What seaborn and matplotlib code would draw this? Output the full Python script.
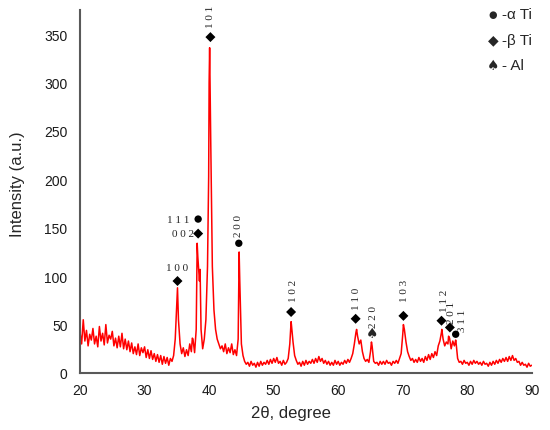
import numpy as np
import pandas as pd
import seaborn as sns
import matplotlib
matplotlib.use("Agg")
import matplotlib.pyplot as plt

two_theta = np.arange(20.0, 90.01, 0.25)
intensity = [
    42, 30, 55, 33,  44, 28, 40, 34,  46, 30, 38, 27,  48, 33, 41, 29,
    50, 31, 39, 35,  43, 28, 36, 26,  38, 27, 41, 25,  35, 24, 33, 22,
    31, 20, 27, 19,  30, 18, 26, 21,  27, 16, 24, 15,  23, 14, 20, 12,
    19, 11, 18, 9,   17, 10, 16, 8,   15, 12, 18, 35,  72, 55, 30, 20,
    26, 17, 24, 18,  30, 22, 35, 21,  45, 120, 95, 45, 25, 35, 55, 110,
    300, 240, 110, 65, 45, 35, 30, 25, 28, 22, 30, 20, 26, 21, 30, 19,
    24, 18, 35, 95,  30, 18, 12, 9,   11, 7, 12, 8,   10, 6, 11, 7,
    12, 8, 11, 9,    13, 9, 14, 10,   15, 11, 16, 10,  12, 8, 13, 9,
    11, 15, 30, 50,  32, 18, 13, 9,   11, 7, 12, 8,   13, 9, 12, 10,
    14, 10, 15, 11,  17, 12, 15, 10,  13, 9, 12, 8,   11, 8, 13, 9,
    12, 8, 11, 9,    13, 10, 14, 11,  15, 20, 30, 42,  38, 30, 34, 22,
    15, 12, 14, 11,  22, 28, 12, 10,  11, 8, 12, 9,   12, 9, 13, 10,
    11, 8, 12, 10,   13, 10, 15, 20,  40, 45, 32, 22,  17, 13, 15, 11,
    14, 11, 16, 12,  15, 11, 17, 13,  19, 14, 20, 16,  22, 18, 28, 33,
    42, 35, 28, 32,  30, 36, 25, 33,  28, 32, 15, 11,  12, 9, 13, 10,
    11, 8, 12, 9,    13, 10, 12, 9,   11, 8, 12, 9,   10, 7, 11, 8,
    12, 9, 13, 10,   14, 11, 15, 12,  16, 12, 17, 13,  18, 13, 15, 11,
    12, 8, 11, 8,    9, 6, 10, 7,     8,
]

# peak tops between the grid points
peak_x = [35.1, 37.4, 38.15, 38.6, 39.93, 40.08, 44.65, 52.7, 62.85, 65.15,
          70.1, 76.05, 77.1, 78.2]
peak_y = [88, 36, 134, 107, 203, 336, 125, 53, 45, 32, 50, 45, 38, 34]

# phase markers
alpha_x = [38.3, 44.6, 78.2]
alpha_y = [159, 134, 40]
beta_x = [35.1, 38.3, 40.2, 52.7, 62.7, 70.1, 76.0, 77.3]
beta_y = [95, 144, 347, 63, 56, 59, 54, 47]
al_x = [65.2]
al_y = [41]

# hkl labels written upright (right aligned) and rotated
flat_labels = ["1 1 1", "0 0 2"]
flat_x = [37.0, 37.6]
flat_y = [159, 144]
rot_labels = ["1 0 1", "2 0 0", "1 0 2", "1 1 0", "2 2 0", "1 0 3", "1 1 2", "2 0 1", "3 1 1"]
rot_x = [40.2, 44.6, 53.1, 62.85, 65.4, 70.3, 76.4, 77.6, 79.3]
rot_y = [357, 141, 74, 66, 48, 74, 64, 52, 43]

df = pd.DataFrame({"x": np.concatenate([two_theta, peak_x]),
                   "y": np.concatenate([intensity, peak_y])}).sort_values("x")

sns.set_style("white")
plt.rcParams["font.family"] = ["Liberation Sans", "DejaVu Sans"]

fig = plt.figure(figsize=(5.5, 4.31), dpi=100)
ax = fig.add_axes([0.1455, 0.1323, 0.8215, 0.8422])

sns.lineplot(data=df, x="x", y="y", ax=ax, color="#ff0000", lw=1.1,
             sort=False, estimator=None)
sns.scatterplot(x=alpha_x, y=alpha_y, ax=ax, marker="o", s=28, color="black",
                edgecolor="none", clip_on=False, zorder=5)
sns.scatterplot(x=beta_x, y=beta_y, ax=ax, marker="D", s=26, color="black",
                edgecolor="none", clip_on=False, zorder=5)
for x, y in zip(al_x, al_y):
    ax.text(x, y, "\u2660", ha="center", va="center", fontsize=10,
            family="DejaVu Sans", zorder=5)

serif = "Liberation Serif"
ax.text(35.1, 104, "1 0 0", ha="center", va="bottom", fontsize=8, family=serif)
for lab, x, y in zip(flat_labels, flat_x, flat_y):
    ax.text(x, y, lab, ha="right", va="center", fontsize=8, family=serif)
for lab, x, y in zip(rot_labels, rot_x, rot_y):
    ax.text(x, y, lab, ha="center", va="bottom", rotation=90, fontsize=8,
            family=serif, clip_on=False)

ax.set_xlim(20, 90)
ax.set_ylim(0, 375)
ax.set_xticks(range(20, 91, 10))
ax.set_yticks(range(0, 351, 50))
ax.tick_params(length=0, labelsize=10, colors="#1a1a1a")
ax.tick_params(axis="x", pad=7)
ax.tick_params(axis="y", pad=9)
for side in ["top", "right"]:
    ax.spines[side].set_visible(False)
for side in ["left", "bottom"]:
    ax.spines[side].set_color("#595959")
    ax.spines[side].set_linewidth(1.5)

ax.set_xlabel("2\u03b8, degree", fontsize=12)
ax.xaxis.set_label_coords(0.467, -0.088)
ax.set_ylabel("Intensity (a.u.)", fontsize=12)
ax.yaxis.set_label_coords(-0.122, 0.523)

# legend drawn as text in the top right corner
legend_sym = ["\u25cf", "\u25c6", "\u2660"]
legend_txt = ["-\u03b1 Ti", "-\u03b2 Ti", "- Al"]
for i, (sym, txt) in enumerate(zip(legend_sym, legend_txt)):
    yy = 1 - (15 + 25.5 * i) / 431
    fig.text(493 / 550, yy, sym, ha="center", va="center", fontsize=7 if i == 0 else 10,
             family="DejaVu Sans")
    fig.text(502 / 550, yy, txt, ha="left", va="center", fontsize=11)

fig.savefig("out.png", dpi=100)
